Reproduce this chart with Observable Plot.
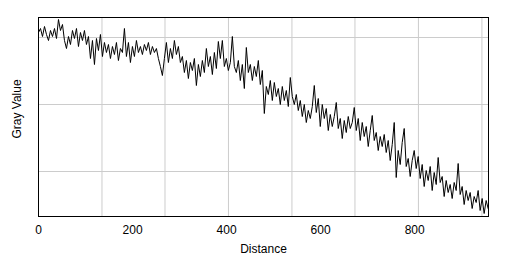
<!DOCTYPE html>
<html>
<head>
<meta charset="utf-8">
<script src="https://cdn.jsdelivr.net/npm/d3@7"></script>
<script src="https://cdn.jsdelivr.net/npm/@observablehq/plot@0.6"></script>
<style>
  html, body { margin: 0; padding: 0; background: #fff; }
  #chart { width: 506px; height: 264px; }
  svg { font-family: "Liberation Sans", Arial, sans-serif; }
</style>
</head>
<body>
<div id="chart"></div>
<script>
// Profile sampled at uniform distance step
const distanceStep = 4.25;
const grayValues = [
  218,222,214,224,216,210,220,214,222,212,231,220,226,210,202,214,206,220,212,222,
  204,218,210,220,206,214,192,210,186,212,200,216,194,208,198,206,192,204,196,208,
  190,202,198,222,194,208,188,204,194,210,198,204,196,206,200,208,196,204,198,202,
  192,184,175,192,208,188,202,192,210,196,204,188,194,178,190,172,188,180,192,165,
  186,174,190,178,202,184,194,176,198,182,209,192,210,184,192,180,188,214,184,178,
  190,170,186,162,203,178,186,170,184,174,190,166,180,137,164,156,170,150,168,154,
  162,146,164,150,160,144,173,154,146,156,140,150,134,146,128,140,132,144,165,138,
  152,124,146,132,142,120,136,124,134,148,122,132,112,130,118,134,122,128,143,120,
  132,110,128,114,124,104,120,135,110,118,100,114,104,116,98,110,90,106,128,73,
  100,86,108,122,84,92,74,90,100,82,94,72,86,64,80,70,84,60,78,66,
  93,68,74,54,70,58,66,52,68,60,87,56,64,46,60,50,58,42,54,48,
  60,40,52,37,50,42
];
const xDomain = [0, 957];
const yDomain = [34, 233];
const xTicks = [0, 200, 400, 600, 800];
const gridX = [135, 269, 404, 539, 673, 808, 943];
const gridY = [79, 146, 213];

const data = grayValues.map((v, i) => ({distance: i * distanceStep, value: v}));

const chart = Plot.plot({
  width: 506,
  height: 264,
  marginLeft: 38,
  marginRight: 18,
  marginTop: 17,
  marginBottom: 48,
  style: {fontFamily: "Liberation Sans, Arial, sans-serif", fontSize: "12px", color: "#000", background: "#fff"},
  x: {domain: xDomain},
  y: {domain: yDomain},
  marks: [
    Plot.ruleX(gridX, {stroke: "#cccccc", strokeWidth: 1}),
    Plot.ruleY(gridY, {stroke: "#cccccc", strokeWidth: 1}),
    Plot.axisX({ticks: xTicks, tickSize: 0, tickPadding: 9, fontSize: 12, label: "Distance", labelAnchor: "center", labelArrow: "none", labelOffset: 36}),
    Plot.axisY({ticks: [], label: null}),
    Plot.text(["Gray Value"], {frameAnchor: "left", textAnchor: "middle", rotate: -90, dx: -21, dy: -8, fontSize: 12, fill: "#000"}),
    Plot.line(data, {x: "distance", y: "value", stroke: "#000", strokeWidth: 1}),
    Plot.frame({stroke: "#000", strokeWidth: 1})
  ]
});
document.getElementById("chart").appendChild(chart);
</script>
</body>
</html>
